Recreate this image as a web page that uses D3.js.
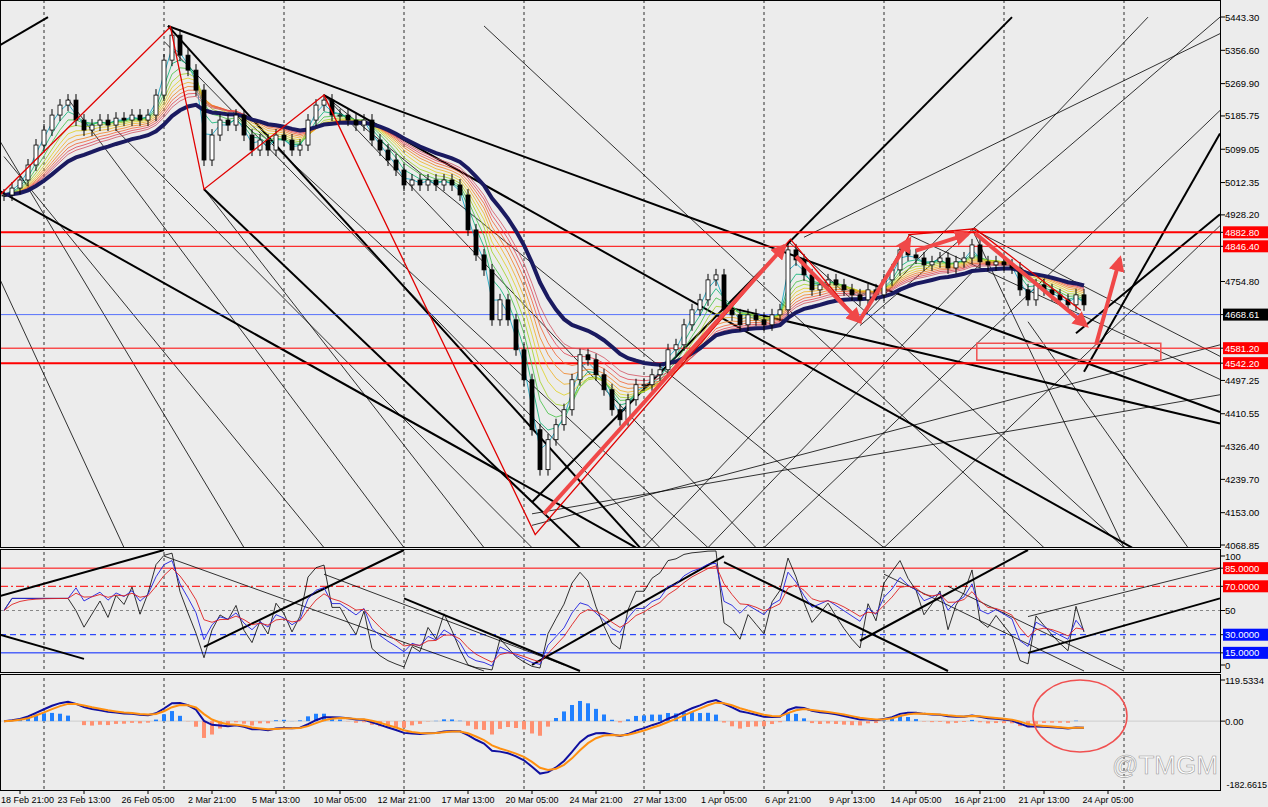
<!DOCTYPE html>
<html><head><meta charset="utf-8">
<script src="https://cdn.jsdelivr.net/npm/d3@7"></script>
<style>body{margin:0;background:#ececec;}svg{display:block;font-family:"Liberation Sans",Arial,sans-serif;}</style>
</head><body>
<svg id="chart" width="1268" height="807"></svg>
<script>
// closes (one value per two candles)
var closes = [4980,4998,5019,5058,5110,5149,5188,5214,5227,5175,5149,5162,5175,5162,5180,5175,5188,5175,5188,5240,
  5331,5396,5344,5305,5253,5071,5136,5175,5162,5188,5136,5097,5123,5097,5136,5123,5097,5110,5175,5214,
  5227,5188,5188,5175,5162,5175,5123,5097,5071,5045,5006,5019,5006,5019,5006,5019,5006,4980,4889,4824,
  4785,4655,4707,4655,4577,4499,4369,4265,4343,4382,4421,4499,4564,4551,4512,4473,4421,4395,4447,4486,
  4486,4512,4525,4577,4590,4642,4681,4707,4759,4772,4681,4668,4642,4668,4655,4642,4668,4681,4837,4811,
  4772,4733,4746,4759,4746,4733,4720,4707,4733,4720,4759,4785,4837,4824,4816,4798,4806,4816,4790,4806,
  4816,4850,4806,4798,4806,4798,4790,4733,4707,4746,4733,4720,4707,4694,4720,4694];
var timeLabels = ["18 Feb 21:00","23 Feb 13:00","26 Feb 05:00","2 Mar 21:00","5 Mar 13:00","10 Mar 05:00","12 Mar 21:00",
  "17 Mar 13:00","20 Mar 05:00","24 Mar 21:00","27 Mar 13:00","1 Apr 05:00","6 Apr 21:00","9 Apr 13:00","14 Apr 05:00",
  "16 Apr 21:00","21 Apr 13:00","24 Apr 05:00"];
var priceTicks = [5443.30,5356.60,5269.90,5185.75,5099.05,5012.35,4928.20,4754.80,4497.25,4410.55,4326.40,4239.70,4153.00,4068.85];
var redLevels = [4882.80,4846.40,4581.20,4542.20];
var currentPrice = 4668.61;
// zigzag pivots [bar, price]
var zigzag = [[-0.5,4980],[20.8,5418],[25,4995],[40,5240],[66.4,4096],[98.3,4865],[107,4648],[113.2,4877],[121.4,4892],[134.6,4680]];
// trend / fan lines [bar1, price1, bar2, price2, width]
var trendLines = [
  [20.5,5420,79.5,4062,2],[-0.5,4990,79,4062,2],[25,4995,72,4062,2],[-0.5,5370,5.5,5443,2],[20.5,5420,152,4415,2],
  [40,5240,141,4062,2],[66,4180,126,5443,2],[134,4620,152,4930,2],[135,4520,152,5140,2],[90,4690,152,4385,2],
  [40,5240,94,4062,1],[25,4995,60,4062,1],[0,5080,40,4062,1],[-0.5,4760,15,4062,1],[40,5240,110,4062,1],
  [66,4150,152,4460,1],[66,4120,152,4590,1],[80,4062,143,5443,1],[95,4062,152,5200,1],[98,4860,140,4062,1],
  [107,4640,152,5443,1],[113,4877,152,4500,1],[121,4892,152,4560,1],[121,4892,140,4062,1],[100,4870,152,5400,1],
  [88,4062,122,4800,1],[20,5380,82,4062,1],[60,5420,130,4062,1],[110,4062,152,4900,1],[128,4650,148,4062,1],
  [8,5230,50,4062,1],[14,5150,66,4062,1],[30,5180,88,4062,1],[-0.5,5120,30,4062,1]];
// red arrows [bar1, price1, bar2, price2]
var arrows = [[67.5,4150,97.6,4848],[99,4820,107,4650],[107,4655,113.2,4865],[114,4835,120.5,4878],[121.4,4880,135.3,4640],[136.5,4590,139.5,4815]];
var rsiLevels = [85,70,50,30,15];
var rsiLines = [[-0.5,62,20,100,2],[-0.5,30,10,10,2],[25,20,50,100,2],[50,60,72,0,2],[66,5,90,95,2],[90,90,118,0,2],[107,25,128,100,2],
  [128,15,152,60,2],[20,95,60,0,1],[40,80,70,5,1],[110,80,135,0,1],[118,70,140,0,1],[128,45,152,85,1]];

var svg = d3.select("#chart");
var plotW = 1221;
var x = d3.scaleLinear().domain([0, 1]).range([4, 12]);
var y = d3.scaleLinear().domain([4068.85, 5443.30]).range([545, 17]);
var yR = d3.scaleLinear().domain([0, 100]).range([671, 550]);
var yM = d3.scaleLinear().domain([-182.6615, 119.5334]).range([784, 680]);

svg.append("rect").attr("width", 1268).attr("height", 807).attr("fill", "#ececec");
function clip(id, y0, y1){
  svg.append("clipPath").attr("id", id).append("rect").attr("x", 0).attr("y", y0).attr("width", plotW).attr("height", y1 - y0);
  return svg.append("g").attr("clip-path", "url(#" + id + ")");
}
var gMain = clip("c1", 0, 547), gRsi = clip("c2", 549, 672), gMacd = clip("c3", 674, 790);

// vertical dashed grid
[gMain, gRsi, gMacd].forEach(function(g){
  d3.range(5, 150, 15).forEach(function(i){
    g.append("line").attr("x1", x(i)).attr("x2", x(i)).attr("y1", 0).attr("y2", 807)
      .attr("stroke", "#000").attr("stroke-dasharray", "3,3").attr("stroke-width", 0.8);
  });
});

// trend lines
trendLines.forEach(function(l){
  gMain.append("line").attr("x1", x(l[0])).attr("y1", y(l[1])).attr("x2", x(l[2])).attr("y2", y(l[3]))
    .attr("stroke", "#000").attr("stroke-width", l[4] == 2 ? 2 : 0.8);
});

// horizontal levels
redLevels.forEach(function(v, k){
  gMain.append("line").attr("x1", 0).attr("x2", plotW).attr("y1", y(v)).attr("y2", y(v))
    .attr("stroke", "#f00").attr("stroke-width", (k == 0 || k == 3) ? 2 : 1);
});
gMain.append("line").attr("x1", 0).attr("x2", plotW).attr("y1", y(currentPrice)).attr("y2", y(currentPrice))
  .attr("stroke", "#3050ff").attr("stroke-width", 0.8);
gMain.append("rect").attr("x", x(121.6)).attr("y", y(4594)).attr("width", x(144.6) - x(121.6)).attr("height", y(4550) - y(4594))
  .attr("fill", "none").attr("stroke", "#f05050").attr("stroke-width", 1.5);

// EMA helper
function ema(arr, n){
  var k = 2 / (n + 1), out = [], prev = arr[0];
  arr.forEach(function(v){ prev = v * k + prev * (1 - k); out.push(prev); });
  return out;
}
// ribbon
var ribbonColors = ["#00a0c0","#00b070","#40c040","#a0d020","#e0d020","#f0b020","#f08020","#f06030","#e04050","#d05060"];
var line = d3.line().x(function(d, i){ return x(i); }).y(function(d){ return y(d); });
ribbonColors.forEach(function(c, k){
  gMain.append("path").datum(ema(closes, 2 + k * 1.5)).attr("d", line)
    .attr("fill", "none").attr("stroke", c).attr("stroke-width", 0.8);
});
gMain.append("path").datum(ema(closes, 20)).attr("d", line).attr("fill", "none").attr("stroke", "#1a1a60").attr("stroke-width", 4);

// candles
closes.forEach(function(c, i){
  var o = i == 0 ? c : closes[i - 1];
  var top = y(Math.max(o, c)), bot = y(Math.min(o, c));
  gMain.append("line").attr("x1", x(i)).attr("x2", x(i)).attr("y1", top - 6).attr("y2", bot + 6).attr("stroke", "#000").attr("stroke-width", 1);
  gMain.append("rect").attr("x", x(i) - 2).attr("y", top).attr("width", 4).attr("height", Math.max(1, bot - top))
    .attr("fill", c >= o ? "#fff" : "#000").attr("stroke", "#000").attr("stroke-width", 0.8);
});

// zigzag
gMain.append("path").datum(zigzag).attr("d", d3.line().x(function(d){ return x(d[0]); }).y(function(d){ return y(d[1]); }))
  .attr("fill", "none").attr("stroke", "#e00000").attr("stroke-width", 1.3);

// arrows
svg.append("defs").append("marker").attr("id", "ah").attr("viewBox", "0 0 10 10").attr("refX", 8).attr("refY", 5)
  .attr("markerWidth", 4).attr("markerHeight", 4).attr("orient", "auto")
  .append("path").attr("d", "M0,0L10,5L0,10z").attr("fill", "#f04848");
arrows.forEach(function(a){
  gMain.append("line").attr("x1", x(a[0])).attr("y1", y(a[1])).attr("x2", x(a[2])).attr("y2", y(a[3]))
    .attr("stroke", "#f04848").attr("stroke-width", 4).attr("marker-end", "url(#ah)");
});

// RSI panel
function rsi(arr, n){
  var out = [50], ag = 0, al = 0;
  for (var i = 1; i < arr.length; i++){
    var d = arr[i] - arr[i - 1];
    ag = (ag * (n - 1) + Math.max(d, 0)) / n; al = (al * (n - 1) + Math.max(-d, 0)) / n;
    out.push(al == 0 ? 60 : 100 - 100 / (1 + ag / al));
  }
  return out;
}
rsiLevels.forEach(function(v){
  var col = v > 50 ? "#f00" : v < 50 ? "#0020ff" : "#888";
  var dash = (v == 70) ? "8,3,2,3" : (v == 30) ? "6,4" : (v == 50) ? "3,3" : null;
  gRsi.append("line").attr("x1", 0).attr("x2", plotW).attr("y1", yR(v)).attr("y2", yR(v))
    .attr("stroke", col).attr("stroke-width", 1).attr("stroke-dasharray", dash);
});
rsiLines.forEach(function(l){
  gRsi.append("line").attr("x1", x(l[0])).attr("y1", yR(l[1])).attr("x2", x(l[2])).attr("y2", yR(l[3]))
    .attr("stroke", "#000").attr("stroke-width", l[4] == 2 ? 2 : 0.8);
});
var rLine = d3.line().x(function(d, i){ return x(i); }).y(function(d){ return yR(d); });
var r1 = rsi(closes, 3), r2 = rsi(closes, 6);
gRsi.append("path").datum(r1).attr("d", rLine).attr("fill", "none").attr("stroke", "#000").attr("stroke-width", 0.8);
gRsi.append("path").datum(r2).attr("d", rLine).attr("fill", "none").attr("stroke", "#2020e0").attr("stroke-width", 0.9);
gRsi.append("path").datum(ema(r2, 3)).attr("d", rLine).attr("fill", "none").attr("stroke", "#e02020").attr("stroke-width", 0.9);

// MACD panel
var fast = ema(closes, 6), slow = ema(closes, 13);
var macd = fast.map(function(v, i){ return (v - slow[i]) * 0.9; });
var signal = ema(macd, 3);
gMacd.append("line").attr("x1", 0).attr("x2", plotW).attr("y1", yM(0)).attr("y2", yM(0)).attr("stroke", "#bbb").attr("stroke-width", 0.6);
macd.forEach(function(v, i){
  var h = (v - signal[i]) * 2.5;
  gMacd.append("rect").attr("x", x(i) - 2).attr("width", 4)
    .attr("y", Math.min(yM(0), yM(h))).attr("height", Math.abs(yM(h) - yM(0)))
    .attr("fill", h >= 0 ? "#2080ff" : "#ff9070");
});
var mLine = d3.line().x(function(d, i){ return x(i); }).y(function(d){ return yM(d); });
gMacd.append("path").datum(macd).attr("d", mLine).attr("fill", "none").attr("stroke", "#1010a0").attr("stroke-width", 2);
gMacd.append("path").datum(signal).attr("d", mLine).attr("fill", "none").attr("stroke", "#ff9010").attr("stroke-width", 2);
gMacd.append("ellipse").attr("cx", 1080).attr("cy", 716).attr("rx", 47).attr("ry", 36)
  .attr("fill", "none").attr("stroke", "#f05050").attr("stroke-width", 1.5);

// panel borders
[[0,547],[549,672],[674,790]].forEach(function(b){
  svg.append("rect").attr("x", 0.5).attr("y", b[0] + 0.5).attr("width", plotW - 1).attr("height", b[1] - b[0])
    .attr("fill", "none").attr("stroke", "#000").attr("stroke-width", 1);
});

// right axis
var ax = svg.append("g").attr("font-size", 9.5);
function tick(yy, txt, bg, fg){
  ax.append("line").attr("x1", plotW).attr("x2", plotW + 4).attr("y1", yy).attr("y2", yy).attr("stroke", "#000");
  if (bg) ax.append("rect").attr("x", plotW + 2).attr("y", yy - 6).attr("width", 45).attr("height", 12).attr("fill", bg);
  ax.append("text").attr("x", plotW + 4).attr("y", yy + 3.5).attr("fill", fg || "#000").text(txt);
}
priceTicks.forEach(function(v){ tick(y(v), v.toFixed(2)); });
redLevels.forEach(function(v){ tick(y(v), v.toFixed(2), "#f00", "#fff"); });
tick(y(currentPrice), currentPrice.toFixed(2), "#000", "#fff");
tick(yR(100) + 6, "100"); tick(yR(50), "50"); tick(yR(0) - 6, "0");
rsiLevels.filter(function(v){ return v != 50; }).forEach(function(v){
  tick(yR(v), v.toFixed(4), v > 50 ? "#f00" : "#0010ff", "#fff");
});
tick(yM(119.5334), "119.5334"); tick(yM(0), "0.00");
ax.append("text").attr("x", 1267).attr("y", yM(-182.6615) + 3.5).attr("text-anchor", "end").attr("font-size", 9).text("-182.6615");

// time axis
timeLabels.forEach(function(t, k){
  var xx = x(k * 8) + 16;
  svg.append("line").attr("x1", xx).attr("x2", xx).attr("y1", 790).attr("y2", 794).attr("stroke", "#000");
  svg.append("text").attr("x", k == 0 ? 1 : xx).attr("y", 803).attr("text-anchor", k == 0 ? "start" : "middle")
    .attr("font-size", 9).text(t);
});

// watermark
svg.append("text").attr("x", 1112).attr("y", 774).attr("font-size", 26).attr("fill", "#fff")
  .attr("stroke", "#999").attr("stroke-width", 0.6).text("@TMGM");
</script>
</body></html>
